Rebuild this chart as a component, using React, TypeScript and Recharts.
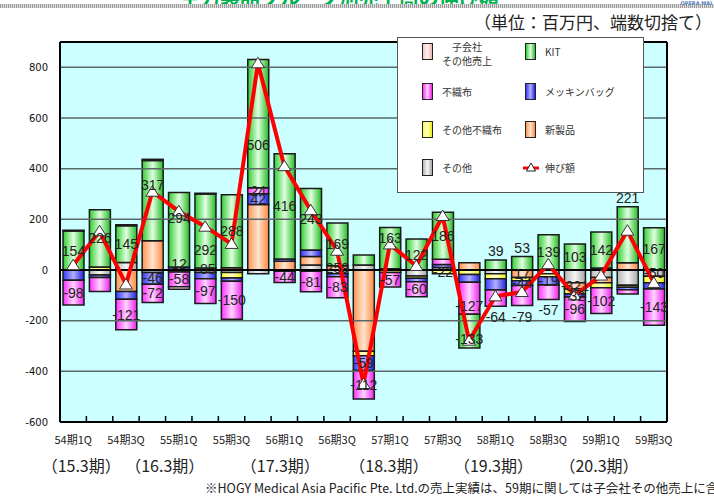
import React from "react";
import {
  Bar,
  ComposedChart,
  LabelList,
  Line,
  ReferenceArea,
  ReferenceLine,
  XAxis,
  YAxis,
} from "recharts";

const QUARTERS = [
  "54期1Q", "54期2Q", "54期3Q", "54期4Q",
  "55期1Q", "55期2Q", "55期3Q", "55期4Q",
  "56期1Q", "56期2Q", "56期3Q", "56期4Q",
  "57期1Q", "57期2Q", "57期3Q", "57期4Q",
  "58期1Q", "58期2Q", "58期3Q", "58期4Q",
  "59期1Q", "59期2Q", "59期3Q",
];
const FISCAL_YEARS = ["（15.3期）", "（16.3期）", "（17.3期）", "（18.3期）", "（19.3期）", "（20.3期）"];
const Y_TICKS = [-600, -400, -200, 0, 200, 400, 600, 800];

// 百万円
const SONOTA = [0, -20, 30, -10, -8, -10, -10, -15, -5, 20, -15, 20, 5, -24, 10, 0, -15, 0, -15, -50, -30, -60, -25];
const SHINSEIHIN = [0, 0, -85, 115, 0, 8, 9, 259, 35, 33, 17, -321, 0, 0, 0, 29, 0, -30, 0, -25, -20, 29, 0];
const SONOTA_FUSHOKU = [0, 12, 0, 0, 0, 0, -22, 0, 0, -5, 0, -17, -10, -9, -15, -18, -20, -12, -12, -20, -20, -8, -25];
const MEKKIN = [-40, -10, -30, -46, 12, -25, -12, 42, 8, 26, -12, -59, 0, -13, 12, -30, -44, -19, -32, -12, 8, -10, -25];
const FUSHOKU = [-98, -55, -121, -72, -58, -97, -150, 24, -44, -81, -83, -112, -57, -60, 20, -127, -64, -79, -57, -96, -102, -17, -143];
const KIT = [154, 226, 145, 317, 294, 292, 288, 506, 416, 243, 169, 39, 163, 122, 186, -133, 39, 53, 139, 103, 142, 221, 167];
const KOGAISHA = [3, 0, 4, 5, -10, 3, 0, 0, 0, 0, 0, 0, 0, 0, 0, 0, 0, 0, 0, 0, 0, 0, 0];
const NOBIGAKU = [19, 153, -57, 309, 232, 171, 103, 816, 410, 236, 76, -450, 101, 16, 213, -279, -104, -87, 23, -100, -22, 155, -51];

// stack order from the zero line outwards
const SERIES = [
  { key: "sonota", name: "その他", values: SONOTA, colors: ["#B4B4B4", "#F6F6F6", "#A6A6A6"] },
  { key: "shinseihin", name: "新製品", values: SHINSEIHIN, colors: ["#FF9450", "#FFE4CF", "#FF8840"] },
  { key: "sonotaFushoku", name: "その他不織布", values: SONOTA_FUSHOKU, colors: ["#FFFF30", "#FFFFD0", "#EEEE00"] },
  { key: "mekkin", name: "メッキンバッグ", values: MEKKIN, colors: ["#3838FF", "#B0B0FF", "#2020E0"] },
  { key: "fushoku", name: "不織布", values: FUSHOKU, colors: ["#FF30FF", "#FFD4FF", "#EE20EE"] },
  { key: "kit", name: "KIT", values: KIT, colors: ["#30CC30", "#E0FFE0", "#22BB22"] },
  { key: "kogaisha", name: "子会社その他売上", values: KOGAISHA, colors: ["#FFC4C4", "#FFF2F2", "#F0B0B0"] },
];

// which segments carry a value label, and nudges where the label sits off-centre
const LABELED: Record<string, number[]> = {
  kit: [0, 1, 2, 3, 4, 5, 6, 7, 8, 9, 10, 12, 13, 14, 15, 16, 17, 18, 19, 20, 21, 22],
  fushoku: [0, 2, 3, 4, 5, 6, 7, 8, 9, 10, 11, 12, 13, 15, 16, 17, 18, 19, 20, 22],
  mekkin: [3, 4, 7, 11, 16, 17, 18],
  shinseihin: [2, 7, 10, 11, 21],
  sonotaFushoku: [6],
  sonota: [19, 21],
};
const LABEL_SHIFT: Record<string, Record<number, number | "above" | "below">> = {
  kit: { 3: -16, 4: -12, 5: 19, 7: 21, 12: -10, 15: 8, 16: "above", 17: "above", 21: "above" },
  fushoku: { 15: 8, 16: "below", 17: "below", 18: "below" },
  mekkin: { 4: -5 },
};

const LEGEND_ORDER = ["kogaisha", "kit", "fushoku", "mekkin", "sonotaFushoku", "shinseihin", "sonota", "line"];
const FY_DX = [8, -14, -4, -1, -2, -2];

const PLOT_LEFT = 60;
const PLOT_RIGHT = 667;
const BAND = (PLOT_RIGHT - PLOT_LEFT) / QUARTERS.length;
const JP = "'Noto Sans CJK JP', sans-serif";

const data = QUARTERS.map((q, i) => {
  const row: Record<string, string | number> = { q, nobigaku: NOBIGAKU[i] };
  SERIES.forEach((s) => (row[s.key] = s.values[i]));
  return row;
});

function QuarterTick(props: any) {
  const { x, y, index, payload } = props;
  const edge = x + BAND / 2;
  return (
    <g>
      <line x1={edge} x2={edge} y1={y} y2={y - 6} stroke="#000" strokeWidth={1.5} />
      {index % 2 === 0 && (
        <text x={x} y={y + 22} textAnchor="middle" fontSize={11} fontFamily={JP} fill="#222">
          {payload.value}
        </text>
      )}
      {index % 4 === 0 && (
        <text x={x + FY_DX[index / 4]} y={y + 50} textAnchor="middle" fontSize={16} fontFamily={JP} fill="#222">
          {FISCAL_YEARS[index / 4]}
        </text>
      )}
    </g>
  );
}

const segmentLabel = (key: string, values: number[]) => (props: any) => {
  const idx = props.index;
  if (!LABELED[key] || !LABELED[key].includes(idx)) return null;
  const vb = props.viewBox || props;
  const { x, y, width, height } = vb;
  const top = Math.min(y, y + height);
  const bottom = Math.max(y, y + height);
  let cy = (top + bottom) / 2;
  const shift = LABEL_SHIFT[key] ? LABEL_SHIFT[key][idx] : undefined;
  if (shift === "above") cy = top - 9;
  else if (shift === "below") cy = bottom + 11;
  else if (typeof shift === "number") cy += shift;
  return (
    <text
      key={`${key}-${idx}`}
      x={x + width / 2}
      y={cy}
      dy="0.36em"
      textAnchor="middle"
      fontSize={14}
      fontFamily="'Liberation Sans', Arial, sans-serif"
      fill="#222"
    >
      {values[idx]}
    </text>
  );
};

function TriangleDot(props: any) {
  const { cx, cy, index } = props;
  if (cx == null || cy == null) return <g key={`t-${index}`} />;
  return (
    <path
      key={`t-${index}`}
      d={`M${cx},${cy - 6} L${cx + 6.5},${cy + 4.5} L${cx - 6.5},${cy + 4.5} Z`}
      fill="#fff"
      stroke="#333"
      strokeWidth={1}
    />
  );
}

function Swatch({ colors }: { colors: string[] }) {
  return (
    <div
      style={{
        width: 9,
        height: 15,
        border: "1.5px solid #222",
        background: `linear-gradient(90deg, ${colors[0]}, ${colors[1]} 50%, ${colors[2]})`,
      }}
    />
  );
}

function LegendBox() {
  const byKey: Record<string, (typeof SERIES)[number]> = {};
  SERIES.forEach((s) => (byKey[s.key] = s));
  const rowsY = [14, 54, 92, 130];
  return (
    <div
      style={{
        position: "absolute",
        left: 397,
        top: 37,
        width: 245,
        height: 154,
        background: "#fff",
        border: "1px solid #555",
        fontFamily: JP,
        fontSize: 10,
        color: "#333",
      }}
    >
      {LEGEND_ORDER.map((key, i) => {
        const col = i % 2;
        const row = Math.floor(i / 2);
        const left = col === 0 ? 24 : 127;
        const cy = rowsY[row];
        if (key === "line") {
          return (
            <div key={key} style={{ position: "absolute", left: left - 3, top: cy - 8 }}>
              <svg width={18} height={16}>
                <line x1={1} x2={17} y1={8} y2={8} stroke="#ff0000" strokeWidth={3} />
                <path d="M9,3 L13.5,11 L4.5,11 Z" fill="#fff" stroke="#222" strokeWidth={1} />
              </svg>
              <span style={{ position: "absolute", left: 23, top: 0, whiteSpace: "nowrap", lineHeight: "16px" }}>伸び額</span>
            </div>
          );
        }
        const s = byKey[key];
        return (
          <div key={key} style={{ position: "absolute", left, top: cy - 9 }}>
            <Swatch colors={s.colors} />
            {key === "kogaisha" ? (
              <div style={{ position: "absolute", left: 10, top: -3, width: 70, textAlign: "center", lineHeight: "14px" }}>
                子会社
                <br />
                その他売上
              </div>
            ) : (
              <span style={{ position: "absolute", left: 20, top: 1, whiteSpace: "nowrap", lineHeight: "16px" }}>
                {s.name}
              </span>
            )}
          </div>
        );
      })}
    </div>
  );
}

export default function App() {
  return (
    <div
      style={{
        position: "fixed",
        left: 0,
        top: 0,
        width: 714,
        height: 498,
        background: "#fff",
        overflow: "hidden",
      }}
    >
      <div
        style={{
          position: "absolute",
          left: 180,
          top: -17,
          fontFamily: JP,
          fontSize: 20,
          fontWeight: 700,
          color: "#00B050",
          whiteSpace: "nowrap",
        }}
      >
        主力製品グループ別売上高の伸び額
      </div>
      <div
        style={{
          position: "absolute",
          left: 0,
          top: 4,
          width: 714,
          height: 4,
          background: "repeating-linear-gradient(90deg, #9a9a9a 0 1px, #e0e0e0 1px 2px)",
        }}
      />
      <div
        style={{
          position: "absolute",
          right: 2,
          top: 0,
          fontFamily: "'DejaVu Sans', sans-serif",
          fontSize: 5,
          fontWeight: 700,
          color: "#5580bb",
        }}
      >
        OPERA MAI
      </div>
      <div
        style={{
          position: "absolute",
          right: 2,
          top: 9,
          fontFamily: JP,
          fontSize: 17,
          color: "#222",
          whiteSpace: "nowrap",
        }}
      >
        （単位：百万円、端数切捨て）
      </div>

      <ComposedChart
        width={714}
        height={498}
        data={data}
        stackOffset="sign"
        margin={{ top: 41, right: 46, bottom: 16, left: 0 }}
      >
        <defs>
          {SERIES.map((s) => (
            <linearGradient key={s.key} id={`g-${s.key}`} x1="0" y1="0" x2="1" y2="0">
              <stop offset="0%" stopColor={s.colors[0]} />
              <stop offset="50%" stopColor={s.colors[1]} />
              <stop offset="100%" stopColor={s.colors[2]} />
            </linearGradient>
          ))}
        </defs>
        <ReferenceArea y1={-600} y2={900} fill="#CCFFFF" fillOpacity={1} stroke="none" />
        {Y_TICKS.filter((v) => v !== 0 && v !== -600).map((v) => (
          <ReferenceLine key={v} y={v} stroke="#5A6868" strokeWidth={1.5} />
        ))}
        <XAxis
          dataKey="q"
          interval={0}
          height={60}
          tickLine={false}
          tickSize={0}
          tickMargin={0}
          axisLine={{ stroke: "#000", strokeWidth: 2 }}
          tick={<QuarterTick />}
        />
        <XAxis
          xAxisId="top"
          orientation="top"
          dataKey="q"
          height={1}
          tick={false}
          tickLine={false}
          axisLine={{ stroke: "#000", strokeWidth: 2 }}
        />
        <YAxis
          domain={[-600, 900]}
          ticks={Y_TICKS}
          interval={0}
          width={60}
          tickLine={false}
          tickSize={0}
          tickMargin={12}
          axisLine={{ stroke: "#000", strokeWidth: 2 }}
          tick={{ fontSize: 10, fill: "#111", fontFamily: "'DejaVu Sans', sans-serif" }}
        />
        <YAxis
          yAxisId="right"
          orientation="right"
          domain={[-600, 900]}
          ticks={Y_TICKS}
          width={1}
          tickSize={4}
          tickLine={{ stroke: "#000" }}
          tick={() => <g />}
          axisLine={{ stroke: "#000", strokeWidth: 2 }}
        />
        {SERIES.map((s) => (
          <Bar
            key={s.key}
            dataKey={s.key}
            name={s.name}
            stackId="q"
            barSize={21}
            fill={`url(#g-${s.key})`}
            stroke="#1a1a1a"
            strokeWidth={1.5}
            isAnimationActive={false}
          >
            <LabelList dataKey={s.key} content={segmentLabel(s.key, s.values)} />
          </Bar>
        ))}
        <ReferenceLine y={0} stroke="#000" strokeWidth={2} />
        <Line
          type="linear"
          dataKey="nobigaku"
          name="伸び額"
          stroke="#FF0000"
          strokeWidth={4}
          dot={<TriangleDot />}
          activeDot={false}
          isAnimationActive={false}
        />
      </ComposedChart>

      <LegendBox />

      <div
        style={{
          position: "absolute",
          left: 205,
          top: 478,
          fontFamily: JP,
          fontSize: 12.5,
          color: "#222",
          whiteSpace: "nowrap",
        }}
      >
        ※HOGY Medical Asia Pacific Pte. Ltd.の売上実績は、59期に関しては子会社その他売上に含む
      </div>
    </div>
  );
}
